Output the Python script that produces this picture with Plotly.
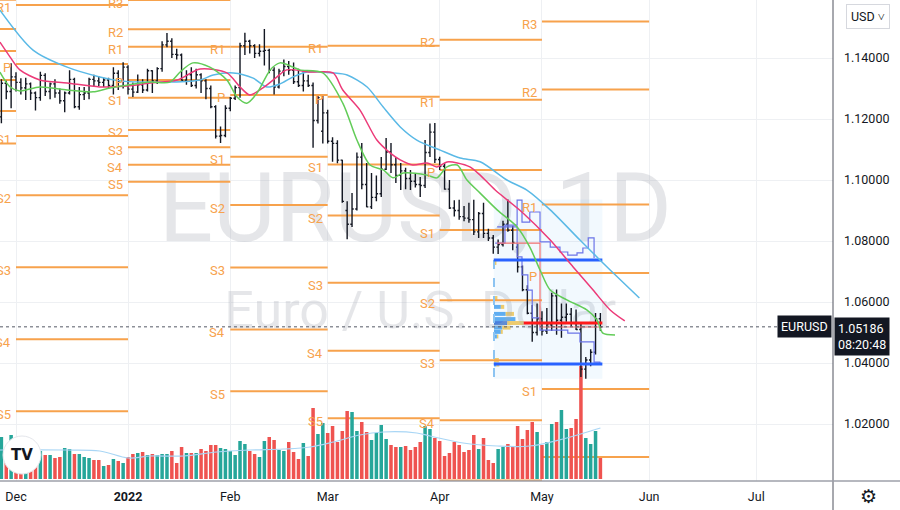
import numpy as np
import pandas as pd
import plotly.graph_objects as go

# ---------------- data ----------------
DATES = pd.bdate_range("2021-11-26", "2022-05-18")

OPEN = [1.1207, 1.1317, 1.1290,
        1.1338, 1.1320, 1.1302, 1.1315, 1.1285, 1.1270, 1.1343, 1.1290, 1.1315, 1.1285, 1.1260, 1.1285,
        1.1330, 1.1240, 1.1280, 1.1285, 1.1330, 1.1325, 1.1320, 1.1328, 1.1310, 1.1350, 1.1325,
        1.1370, 1.1298, 1.1288, 1.1312, 1.1295, 1.1358, 1.1325, 1.1365, 1.1443, 1.1455, 1.1412,
        1.1410, 1.1327, 1.1345, 1.1310, 1.1345, 1.1325, 1.1300, 1.1240, 1.1144, 1.1146,
        1.1235, 1.1268, 1.1303, 1.1440, 1.1455, 1.1440, 1.1415, 1.1422, 1.1425, 1.1360, 1.1305,
        1.1357, 1.1372, 1.1360, 1.1322, 1.1310, 1.1325, 1.1310, 1.1195, 1.1160,
        1.1220, 1.1127, 1.1120, 1.1065, 1.0900, 1.0855, 1.0905, 1.1075, 1.0985, 1.0912, 1.0943,
        1.0955, 1.1035, 1.1092, 1.1050, 1.1015, 1.1030, 1.1005, 1.0996, 1.0985, 1.0982, 1.1090, 1.1157,
        1.1067, 1.1045, 1.0970, 1.0908, 1.0900, 1.0880, 1.0875, 1.0870, 1.0830, 1.0890, 1.0825,
        1.0810, 1.0780, 1.0788, 1.0855, 1.0835, 1.0780, 1.0715, 1.0640, 1.0563, 1.0500,
        1.0545, 1.0505, 1.0525, 1.0620, 1.0540, 1.0550, 1.0560, 1.0530, 1.0510, 1.0380, 1.0410,
        1.0435, 1.0545]
HIGH = [1.1330, 1.1325, 1.1383,
        1.1353, 1.1334, 1.1335, 1.1320, 1.1290, 1.1355, 1.1350, 1.1320, 1.1330, 1.1300, 1.1290, 1.1360,
        1.1335, 1.1305, 1.1305, 1.1335, 1.1345, 1.1340, 1.1335, 1.1335, 1.1370, 1.1360, 1.1386,
        1.1376, 1.1320, 1.1346, 1.1330, 1.1365, 1.1360, 1.1370, 1.1455, 1.1482, 1.1465, 1.1430,
        1.1415, 1.1360, 1.1370, 1.1365, 1.1350, 1.1330, 1.1310, 1.1245, 1.1175, 1.1245,
        1.1272, 1.1310, 1.1450, 1.1483, 1.1460, 1.1445, 1.1445, 1.1495, 1.1430, 1.1370, 1.1365,
        1.1395, 1.1390, 1.1385, 1.1365, 1.1360, 1.1345, 1.1320, 1.1275, 1.1275,
        1.1230, 1.1140, 1.1130, 1.1066, 1.0930, 1.0957, 1.1090, 1.1121, 1.1056, 1.1023, 1.1015,
        1.1075, 1.1138, 1.1121, 1.1075, 1.1056, 1.1040, 1.1033, 1.1020, 1.1010, 1.1131, 1.1185, 1.1187,
        1.1076, 1.1055, 1.1000, 1.0934, 1.0935, 1.0915, 1.0925, 1.0935, 1.0895, 1.0925, 1.0840,
        1.0820, 1.0805, 1.0866, 1.0936, 1.0850, 1.0790, 1.0720, 1.0655, 1.0590, 1.0595,
        1.0570, 1.0580, 1.0630, 1.0641, 1.0595, 1.0595, 1.0580, 1.0575, 1.0531, 1.0420, 1.0445,
        1.0564, 1.0564]
LOW = [1.1186, 1.1265, 1.1235,
       1.1290, 1.1280, 1.1262, 1.1262, 1.1228, 1.1260, 1.1275, 1.1265, 1.1270, 1.1250, 1.1222, 1.1280,
       1.1235, 1.1230, 1.1262, 1.1265, 1.1305, 1.1308, 1.1305, 1.1300, 1.1280, 1.1295, 1.1300,
       1.1280, 1.1272, 1.1285, 1.1285, 1.1290, 1.1285, 1.1315, 1.1355, 1.1435, 1.1400, 1.1395,
       1.1326, 1.1312, 1.1305, 1.1300, 1.1285, 1.1265, 1.1235, 1.1136, 1.1121, 1.1140,
       1.1225, 1.1262, 1.1270, 1.1410, 1.1415, 1.1400, 1.1405, 1.1375, 1.1350, 1.1280, 1.1300,
       1.1340, 1.1345, 1.1315, 1.1305, 1.1290, 1.1305, 1.1106, 1.1185, 1.1120,
       1.1120, 1.1060, 1.1055, 1.0925, 1.0806, 1.0846, 1.0900, 1.0970, 1.0911, 1.0905, 1.0930,
       1.0944, 1.1033, 1.1023, 1.0990, 1.0967, 1.0970, 1.0967, 1.0975, 1.0944, 1.0974, 1.1075, 1.1056,
       1.1033, 1.0968, 1.0905, 1.0880, 1.0870, 1.0865, 1.0860, 1.0820, 1.0810, 1.0810, 1.0800,
       1.0758, 1.0757, 1.0782, 1.0830, 1.0770, 1.0697, 1.0635, 1.0560, 1.0470, 1.0490,
       1.0490, 1.0495, 1.0505, 1.0493, 1.0483, 1.0535, 1.0520, 1.0508, 1.0354, 1.0348, 1.0389,
       1.0428, 1.0505]
CLOSE = [1.1317, 1.1290, 1.1338,
         1.1320, 1.1302, 1.1315, 1.1285, 1.1270, 1.1343, 1.1290, 1.1315, 1.1285, 1.1260, 1.1285, 1.1330,
         1.1240, 1.1280, 1.1285, 1.1330, 1.1325, 1.1320, 1.1328, 1.1310, 1.1350, 1.1325, 1.1370,
         1.1298, 1.1288, 1.1312, 1.1295, 1.1358, 1.1325, 1.1365, 1.1443, 1.1455, 1.1412, 1.1410,
         1.1327, 1.1345, 1.1310, 1.1345, 1.1325, 1.1300, 1.1240, 1.1144, 1.1146, 1.1235,
         1.1268, 1.1303, 1.1440, 1.1455, 1.1440, 1.1415, 1.1422, 1.1425, 1.1360, 1.1305, 1.1357,
         1.1372, 1.1360, 1.1322, 1.1310, 1.1325, 1.1310, 1.1195, 1.1270, 1.1220,
         1.1127, 1.1120, 1.1065, 1.0930, 1.0855, 1.0905, 1.1075, 1.0985, 1.0912, 1.0943, 1.0955,
         1.1035, 1.1092, 1.1050, 1.1015, 1.1030, 1.1005, 1.0996, 1.0985, 1.0982, 1.1090, 1.1157, 1.1067,
         1.1045, 1.0970, 1.0908, 1.0900, 1.0880, 1.0875, 1.0870, 1.0830, 1.0890, 1.0825, 1.0810,
         1.0780, 1.0788, 1.0855, 1.0835, 1.0795, 1.0715, 1.0640, 1.0563, 1.0500, 1.0545,
         1.0505, 1.0525, 1.0620, 1.0540, 1.0550, 1.0560, 1.0530, 1.0510, 1.0380, 1.0410, 1.0435,
         1.0545, 1.05186]
VOLUME = [42, 30, 44,
          34, 30, 29, 26, 31, 28, 24, 24, 21, 22, 31, 30, 25, 25, 22, 21, 19, 19, 13, 14, 20, 18, 16,
          22, 25, 26, 27, 24, 25, 24, 25, 25, 28, 16, 32, 26, 26, 26, 30, 28, 34, 34, 31, 30,
          28, 24, 38, 35, 28, 25, 22, 38, 42, 39, 29, 28, 37, 27, 20, 36, 23, 71, 45, 56,
          46, 53, 37, 48, 68, 67, 48, 57, 47, 39, 46, 54, 40, 34, 32, 32, 33, 29, 32, 37, 53, 50, 41,
          38, 23, 26, 37, 34, 27, 29, 44, 30, 41, 19, 16, 30, 32, 35, 33, 53, 40, 49, 57, 47,
          34, 37, 55, 57, 69, 50, 51, 60, 113, 41, 35, 48, 21]

LAST_PRICE = 1.05186
LAST_TIME = "08:20:48"
SYMBOL = "EURUSD"

# volume moving average (bar position, value)
VOL_MA_POS = [-3.3, 10.4, 17.2, 23.1, 27.5, 34.4, 41.2, 48.0, 54.9, 60.4, 65.2, 70.6, 75.4, 82.3,
              85.0, 91.8, 98.8, 105.5, 112.3, 119.3, 120.0]
VOL_MA_VAL = [29, 29, 28, 21, 23, 23, 27, 29, 30, 32, 37, 44, 47, 46, 43, 36, 33, 33, 40, 50, 51]

# Alligator lines (bar position, price)
JAW_POS = [-3.3, 3.5, 10.5, 17.2, 21.4, 25.5, 31.6, 37.8, 40.5, 44.6, 48.7, 51.5, 54.2, 56.9, 59.8,
           65.1, 68.0, 72.1, 75.4, 78.9, 82.3, 87.1, 91.2, 95.3, 100.8, 104.9, 109.7, 115.8, 119.9,
           122.0, 128.0]
JAW_VAL = [1.1557, 1.1426, 1.1370, 1.1338, 1.1325, 1.1321, 1.1321, 1.1328, 1.1344, 1.1351, 1.1334,
           1.1305, 1.1315, 1.1338, 1.1354, 1.1351, 1.1344, 1.1305, 1.1239, 1.1174, 1.1131, 1.1098,
           1.1072, 1.1060, 1.1000, 1.0967, 1.0902, 1.0803, 1.0738, 1.0705, 1.0613]
TEETH_POS = [-3.3, -1.2, 0.8, 4.9, 10.5, 17.2, 22.8, 27.5, 33.1, 37.8, 43.3, 46.0, 48.0, 50.7, 53.6,
             55.6, 60.4, 65.1, 67.1, 70.6, 74.1, 76.8, 78.9, 81.5, 84.4, 86.4, 88.5, 90.6, 93.2, 95.3,
             98.4, 104.1, 109.7, 114.4, 118.5, 122.0, 125.0]
TEETH_VAL = [1.1452, 1.1403, 1.1361, 1.1328, 1.1318, 1.1305, 1.1308, 1.1318, 1.1328, 1.1364, 1.1351,
             1.1305, 1.1279, 1.1302, 1.1338, 1.1361, 1.1354, 1.1351, 1.1295, 1.1230, 1.1131, 1.1089,
             1.1066, 1.1049, 1.1056, 1.1043, 1.1059, 1.1056, 1.1043, 1.1016, 1.0967, 1.0892, 1.0803,
             1.0715, 1.0639, 1.0574, 1.0538]
LIPS_POS = [-3.3, -1.2, 0.8, 4.9, 10.5, 15.8, 19.3, 22.8, 27.5, 31.6, 33.7, 36.3, 39.8, 43.3, 45.4,
            47.4, 49.5, 52.2, 54.2, 56.9, 58.3, 63.0, 67.1, 70.0, 72.7, 75.4, 77.4, 79.5, 84.4, 86.4,
            88.5, 90.6, 92.6, 95.3, 98.8, 102.9, 105.5, 107.6, 109.7, 113.1, 117.2, 119.3, 120.5, 123.0]
LIPS_VAL = [1.1354, 1.1305, 1.1292, 1.1305, 1.1295, 1.1289, 1.1302, 1.1311, 1.1321, 1.1321, 1.1354,
            1.1384, 1.1370, 1.1328, 1.1272, 1.1252, 1.1285, 1.1361, 1.1384, 1.1370, 1.1361, 1.1351,
            1.1252, 1.1131, 1.1049, 1.1033, 1.1007, 1.1023, 1.1016, 1.1007, 1.1043, 1.1049, 1.1000,
            1.0957, 1.0902, 1.0846, 1.0780, 1.0705, 1.0639, 1.0607, 1.0574, 1.0541, 1.0498, 1.0492]

# Monthly pivot points (traditional)
PIVOT_MONTHS = ["2021-11-01", "2021-12-01", "2022-01-01", "2022-02-01", "2022-03-01",
                "2022-04-01", "2022-05-01", "2022-06-01"]
PIV_P = [1.1591, 1.1380, 1.1328, 1.1279, 1.1273, 1.1033, 1.0695]
PIV_R1 = [1.1658, 1.1574, 1.1437, 1.1437, 1.1440, 1.1263, 1.0920]
PIV_R2 = [1.1759, 1.1810, 1.1494, 1.1640, 1.1663, 1.1460, 1.1297]
PIV_R3 = [1.1826, 1.2004, 1.1590, 1.1798, 1.1829, 1.1690, 1.1520]
PIV_S1 = [1.1495, 1.1144, 1.1270, 1.1076, 1.1051, 1.0836, 1.0315]
PIV_S2 = [1.1423, 1.0950, 1.1164, 1.0918, 1.0884, 1.0606, 1.0092]
PIV_S3 = [1.1328, 1.0714, 1.1107, 1.0713, 1.0663, 1.0409, 0.9720]
PIV_S4 = [1.1226, 1.0478, 1.1050, 1.0510, 1.0440, 1.0212, 0.9497]
PIV_S5 = [1.1120, 1.0242, 1.0994, 1.0307, 1.0219, 1.0015, 0.9275]

# Volume profile (fixed range Apr 18 - May 18)
VP_START_DATE = "2022-04-18"
VP_END_DATE = "2022-05-18"
VP_HIGH, VP_LOW = 1.0936, 1.0348
VP_VAH, VP_VAL, VP_POC = 1.0738, 1.0397, 1.0531
VP_ROW_PRICE = [1.0728, 1.0613, 1.0584, 1.0561, 1.0544, 1.0531, 1.0516, 1.0502, 1.0487, 1.0410, 1.0395]
VP_UP_VOL = [0.0, 0.0, 1.4, 2.4, 4.4, 2.7, 1.7, 1.4, 0.6, 0.0, 0.5]
VP_DN_VOL = [0.5, 0.7, 0.7, 1.7, 0.0, 3.4, 1.7, 0.4, 0.3, 1.0, 0.6]
DEV_VAH_POS = [98.4, 100.4, 102.9, 103.9, 105.5, 107.6, 109.7, 111.7, 113.3, 115.2, 116.4, 117.5, 118.7]
DEV_VAH_VAL = [1.0793, 1.0852, 1.0934, 1.0862, 1.0895, 1.0797, 1.0780, 1.0764, 1.0754, 1.0761, 1.0777,
               1.0810, 1.0744]
DEV_VAL_POS = [98.8, 102.9, 103.9, 105.1, 106.0, 107.6, 113.3, 115.8, 118.7, 119.9]
DEV_VAL_VAL = [1.0846, 1.0748, 1.0689, 1.0639, 1.0548, 1.0508, 1.0498, 1.0469, 1.0403, 1.0397]
DEV_POC_POS = [98.8, 107.6, 120.3]
DEV_POC_VAL = [1.0793, 1.0518, 1.0518]

TICK_DATES = ["2021-12-01", "2022-01-03", "2022-02-01", "2022-03-01", "2022-04-01", "2022-05-02",
              "2022-06-01", "2022-07-01"]
TICK_TEXT = ["Dec", "<b>2022</b>", "Feb", "Mar", "Apr", "May", "Jun", "Jul"]
PRICE_TICKS = [1.02, 1.04, 1.06, 1.08, 1.10, 1.12, 1.14]


# ---------------- helpers ----------------
ORIGIN = np.datetime64("2021-12-01")


def bar_pos(d):
    return int(np.busday_count(ORIGIN, np.datetime64(pd.Timestamp(d).strftime("%Y-%m-%d"))))


X = np.array([bar_pos(d) for d in DATES])
X_RANGE = [-3.285, 167.76]
Y_RANGE = [1.001311, 1.159016]

ORANGE = "#f7a24c"
fig = go.Figure()

# watermark
fig.add_trace(go.Scatter(x=[82], y=[1.0880], mode="text", text=["EURUSD, 1D"],
                         textfont=dict(size=96, color="rgba(170,172,182,0.30)", family="Roboto"),
                         hoverinfo="skip"))
fig.add_trace(go.Scatter(x=[83], y=[1.0556], mode="text", text=["Euro / U.S. Dollar"],
                         textfont=dict(size=52, color="rgba(170,172,182,0.30)", family="Roboto"),
                         hoverinfo="skip"))

# volume profile box
vp0 = bar_pos(VP_START_DATE) + 0.1
vp1 = bar_pos(VP_END_DATE) + 0.4
fig.add_trace(go.Scatter(x=[vp0, vp1, vp1, vp0, vp0], y=[VP_LOW, VP_LOW, VP_HIGH, VP_HIGH, VP_LOW],
                         fill="toself", fillcolor="rgba(33,150,243,0.06)", mode="lines",
                         line=dict(width=0), hoverinfo="skip"))

# pivot lines
levels = [("P", PIV_P), ("R1", PIV_R1), ("R2", PIV_R2), ("R3", PIV_R3), ("S1", PIV_S1),
          ("S2", PIV_S2), ("S3", PIV_S3), ("S4", PIV_S4), ("S5", PIV_S5)]
px, py = [], []
annotations = []
for i in range(len(PIVOT_MONTHS) - 1):
    s = bar_pos(PIVOT_MONTHS[i])
    e = bar_pos(PIVOT_MONTHS[i + 1])
    for name, arr in levels:
        v = arr[i]
        px += [s, e, None]
        py += [v, v, None]
        if s > X_RANGE[0] and 1.015 < v <= Y_RANGE[1]:
            annotations.append(dict(x=s, y=v, xref="x", yref="y", text=name, showarrow=False,
                                    xanchor="right", yanchor="middle", xshift=-3, yshift=-3,
                                    font=dict(size=13, color=ORANGE, family="Roboto")))
fig.add_trace(go.Scatter(x=px, y=py, mode="lines", line=dict(color=ORANGE, width=2),
                         hoverinfo="skip", connectgaps=False))

# volume profile histogram rows
row_base = bar_pos(VP_START_DATE) + 0.15
up_colors = ["#1f5fd6" if abs(p - VP_POC) < 1e-6 else "#3d9cf0" for p in VP_ROW_PRICE]
fig.add_trace(go.Bar(orientation="h", y=VP_ROW_PRICE, x=VP_UP_VOL, base=[row_base] * len(VP_ROW_PRICE),
                     width=0.0013, marker=dict(color=up_colors, line=dict(width=0)), opacity=0.8,
                     hoverinfo="skip"))
fig.add_trace(go.Bar(orientation="h", y=VP_ROW_PRICE, x=VP_DN_VOL,
                     base=[row_base + u for u in VP_UP_VOL], width=0.0013,
                     marker=dict(color="#f9c440", line=dict(width=0)), opacity=0.8, hoverinfo="skip"))

# volume (overlay axis)
vcol = ["#26a69a" if c >= o else "#ef5350" for o, c in zip(OPEN, CLOSE)]
fig.add_trace(go.Bar(x=X, y=VOLUME, yaxis="y2", width=0.72, marker=dict(color=vcol, line=dict(width=0)),
                     hoverinfo="skip"))
fig.add_trace(go.Scatter(x=VOL_MA_POS, y=VOL_MA_VAL, yaxis="y2", mode="lines",
                         line=dict(color="#a9d6f5", width=1.2, shape="spline"), hoverinfo="skip"))

# volume profile lines (top overlay)
fig.add_trace(go.Scatter(x=[row_base, row_base], y=[VP_VAH, VP_LOW], yaxis="y3", mode="lines",
                         line=dict(color="#8cc4f2", width=2, dash="dash"), hoverinfo="skip"))
fig.add_trace(go.Scatter(x=DEV_VAH_POS, y=DEV_VAH_VAL, yaxis="y3", mode="lines",
                         line=dict(color="#6b74e8", width=1.2, shape="hv"), hoverinfo="skip"))
fig.add_trace(go.Scatter(x=DEV_VAL_POS, y=DEV_VAL_VAL, yaxis="y3", mode="lines",
                         line=dict(color="#6b74e8", width=1.2, shape="hv"), hoverinfo="skip"))
fig.add_trace(go.Scatter(x=DEV_POC_POS, y=DEV_POC_VAL, yaxis="y3", mode="lines",
                         line=dict(color="#f07070", width=1.2, shape="hv"), hoverinfo="skip"))
fig.add_trace(go.Scatter(x=[vp0, vp1], y=[VP_VAH, VP_VAH], yaxis="y3", mode="lines",
                         line=dict(color="#2962ff", width=3), hoverinfo="skip"))
fig.add_trace(go.Scatter(x=[vp0, vp1], y=[VP_VAL, VP_VAL], yaxis="y3", mode="lines",
                         line=dict(color="#2962ff", width=3), hoverinfo="skip"))
poc_start = row_base + max(u + d for u, d in zip(VP_UP_VOL, VP_DN_VOL))
fig.add_trace(go.Scatter(x=[poc_start, vp1], y=[VP_POC, VP_POC], yaxis="y3", mode="lines",
                         line=dict(color="#ff1a1a", width=3), hoverinfo="skip"))

# price bars
fig.add_trace(go.Ohlc(x=X, open=OPEN, high=HIGH, low=LOW, close=CLOSE, yaxis="y3",
                      increasing=dict(line=dict(color="#131722", width=1.4)),
                      decreasing=dict(line=dict(color="#131722", width=1.4)),
                      tickwidth=0.35, hoverinfo="skip"))

# alligator
for pos, val, col in [(JAW_POS, JAW_VAL, "#5ab9e6"), (TEETH_POS, TEETH_VAL, "#ec3a78"),
                      (LIPS_POS, LIPS_VAL, "#62cc58")]:
    fig.add_trace(go.Scatter(x=pos, y=val, yaxis="y3", mode="lines",
                             line=dict(color=col, width=1.5, shape="spline", smoothing=0.8),
                             hoverinfo="skip"))

# last price label boxes
annotations += [
    dict(xref="paper", x=1, y=LAST_PRICE, yref="y", text=SYMBOL, showarrow=False, xanchor="right",
         yanchor="middle", xshift=-1, bgcolor="#131722", borderpad=3,
         font=dict(color="white", size=12.5, family="Roboto")),
    dict(xref="paper", x=1, y=LAST_PRICE, yref="y", text=f"{LAST_PRICE:.5f}<br>{LAST_TIME}",
         showarrow=False, xanchor="left", yanchor="top", xshift=1, yshift=10, align="left",
         bgcolor="#131722", borderpad=3, font=dict(color="white", size=12.5, family="Roboto")),
    dict(xref="paper", yref="paper", x=868 / 833, y=1 - 17 / 481, text="USD ˅", showarrow=False,
         xanchor="center", yanchor="middle", bgcolor="white", bordercolor="#d6d8de", borderwidth=1,
         borderpad=4, font=dict(size=12.5, color="#131722", family="Roboto")),
    dict(xref="paper", yref="paper", x=868 / 833, y=-15 / 481, text="⚙", showarrow=False,
         xanchor="center", yanchor="middle", font=dict(size=19, color="#131722", family="DejaVu Sans")),
    dict(xref="paper", yref="paper", x=22 / 833, y=(481 - 455) / 481, text="<b>TV</b>", showarrow=False,
         xanchor="center", yanchor="middle", font=dict(size=15, color="#131722", family="DejaVu Sans")),
]

shapes = [
    dict(type="line", xref="paper", yref="y", x0=0, x1=778 / 833, y0=LAST_PRICE, y1=LAST_PRICE,
         line=dict(color="#555a66", width=1, dash="dot")),
    dict(type="line", xref="paper", yref="paper", x0=1, x1=1, y0=-29 / 481, y1=1,
         line=dict(color="#50535e", width=1)),
    dict(type="line", xref="paper", yref="paper", x0=0, x1=900 / 833, y0=0, y1=0,
         line=dict(color="#9ea1aa", width=1.5)),
    dict(type="circle", xref="paper", yref="paper", x0=3 / 833, x1=41 / 833, y0=(481 - 474) / 481,
         y1=(481 - 436) / 481, fillcolor="white", line=dict(color="#e4e6eb", width=1)),
]

fig.update_layout(
    width=900, height=510, margin=dict(l=0, r=67, t=0, b=29, autoexpand=False),
    paper_bgcolor="white", plot_bgcolor="white", showlegend=False, barmode="overlay",
    hovermode=False, font=dict(family="Roboto, sans-serif", size=12, color="#131722"),
    xaxis=dict(range=X_RANGE, tickvals=[bar_pos(d) for d in TICK_DATES], ticktext=TICK_TEXT,
               showgrid=True, gridcolor="#eef0f3", gridwidth=1, zeroline=False, showline=False,
               ticks="", ticklabelstandoff=6, tickfont=dict(size=12.5, color="#131722"),
               rangeslider=dict(visible=False), fixedrange=True),
    yaxis=dict(range=Y_RANGE, side="right", tickvals=PRICE_TICKS,
               ticktext=[f"{t:.5f}" for t in PRICE_TICKS], showgrid=True, gridcolor="#eef0f3",
               zeroline=False, ticks="", ticklabelstandoff=10,
               tickfont=dict(size=12.5, color="#131722"), fixedrange=True),
    yaxis2=dict(range=[-2, 479], overlaying="y", visible=False, fixedrange=True),
    yaxis3=dict(range=Y_RANGE, overlaying="y", visible=False, fixedrange=True),
    annotations=annotations, shapes=shapes,
)

fig.write_html("out.html", config={"displayModeBar": False, "staticPlot": True},
               post_script="document.body.style.margin='0';document.body.style.padding='0';"
                           "document.body.style.overflow='hidden';")
